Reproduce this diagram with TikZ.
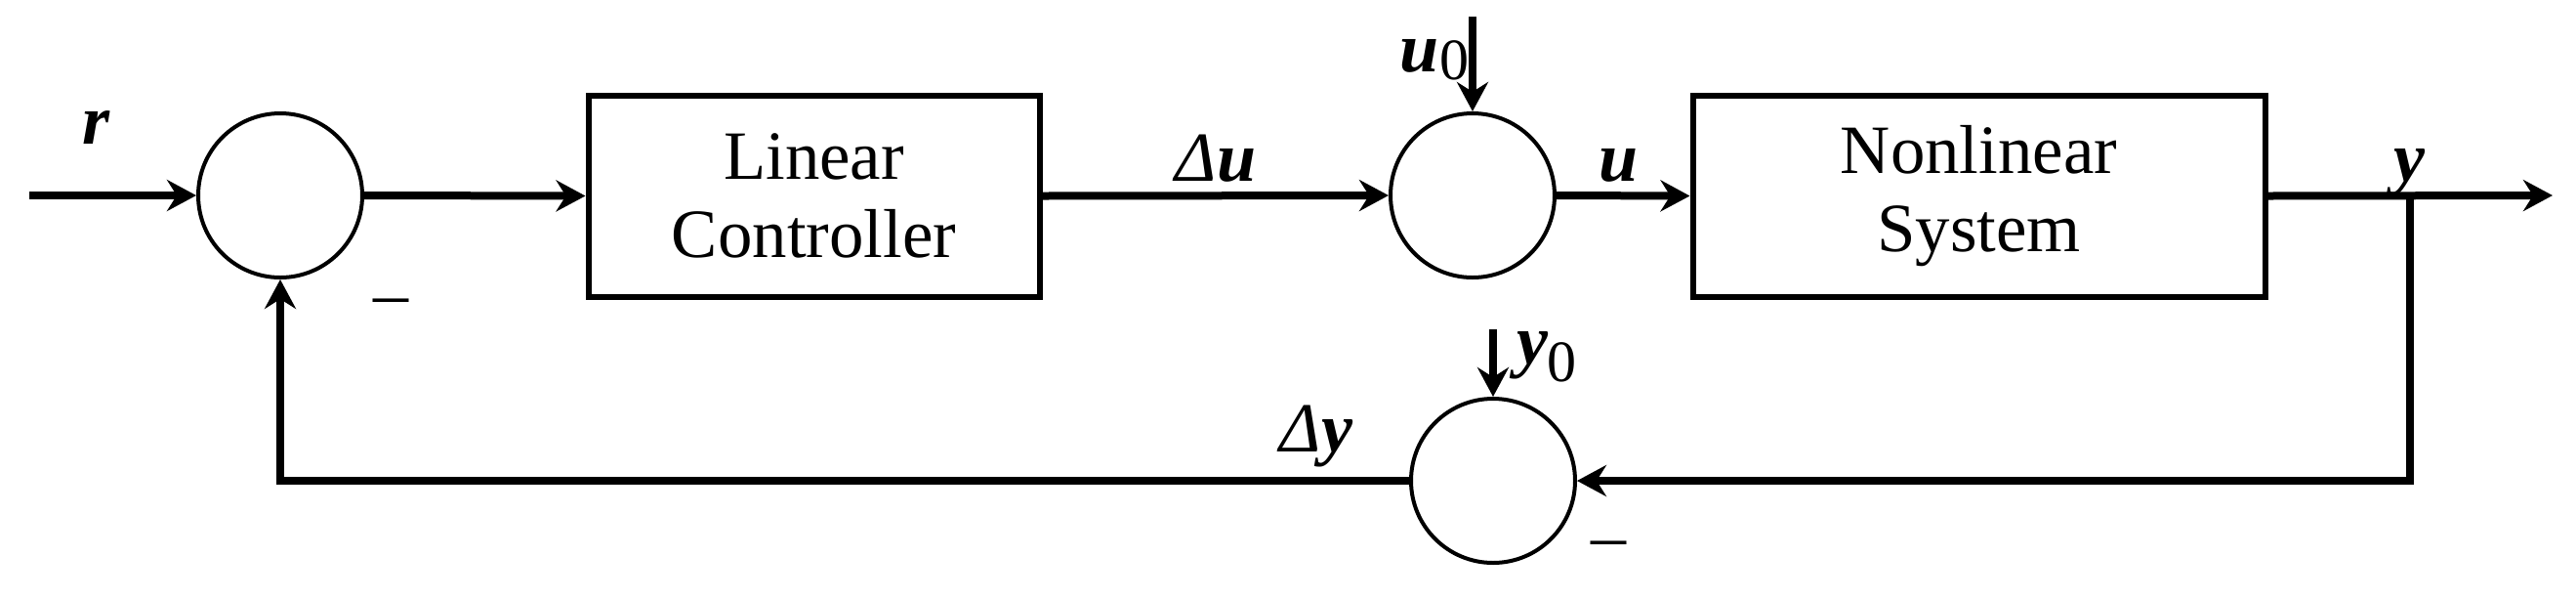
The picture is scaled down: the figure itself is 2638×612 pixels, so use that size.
\documentclass[tikz,border=0pt]{standalone}
\usepackage{fontspec}
\setmainfont{Liberation Serif}
\usetikzlibrary{arrows.meta}
\begin{document}
\begin{tikzpicture}[x=0.25pt,y=-0.25pt,
  sumnode/.style={circle,draw,line width=1pt,minimum size=42pt,inner sep=0pt},
  blockbox/.style={draw,line width=1.5pt,minimum height=51.5pt,align=center,inner sep=0pt,
    font=\fontsize{17.7}{20}\selectfont},
  sig/.style={line width=2pt,-{Stealth[length=7.5pt,width=8pt,inset=2.5pt]}},
  plain/.style={line width=2pt},
  lbl/.style={font=\fontsize{18}{20}\selectfont\bfseries\itshape,inner sep=0pt,anchor=base},
  sgn/.style={font=\fontsize{18}{20}\selectfont,inner sep=0pt,anchor=base},
]
\useasboundingbox (0,0) rectangle (2638,612);
% blocks
\node[sumnode] (s1) at (287,200) {};
\node[blockbox,minimum width=115.5pt] (lc) at (833.5,200.5) {Linear\\Controller};
\node[sumnode] (s2) at (1508,200) {};
\node[blockbox,minimum width=146.5pt] (ns) at (2026.5,200.5) {Nonlinear\\System};
\node[sumnode] (s3) at (1529,492) {};
\coordinate (in) at (30,200);
\coordinate (out) at (2614,200);
\coordinate (br) at (2468,200);
\coordinate (u0top) at (1508,17);
\coordinate (y0top) at (1529,337);
% connectors
\draw[sig] (in) -- (s1.west);
\draw[sig] (s1.east) -- (lc.west);
\draw[sig] (lc.east) -- (s2.west);
\draw[sig] (s2.east) -- (ns.west);
\draw[sig] (ns.east) -- (out);
\draw[sig] (br) |- (s3.east);
\draw[sig] (s3.west) -| (s1.south);
\draw[sig] (u0top) -- (s2.north);
\draw[sig] (y0top) -- (s3.north);
% labels
\node[lbl] (lr) at (99,147) {r};
\node[lbl] (ldu) at (1245,185) {{\mdseries Δ}u};
\node[lbl] (lu) at (1658,185) {u};
\node[lbl] (ly) at (2467,185) {y};
\node[lbl] (ldy) at (1348,462) {{\mdseries Δ}y};
\node[lbl] (lu0) at (1469,73) {u\raisebox{-0.25ex}{\mdseries\upshape\fontsize{15}{15}\selectfont 0}};
\node[lbl] (ly0) at (1584,372) {y\raisebox{-0.55ex}{\mdseries\upshape\fontsize{15}{15}\selectfont 0}};
\node[sgn] (m1) at (400,324) {–};
\node[sgn] (m2) at (1647,572) {–};
\end{tikzpicture}
\end{document}
